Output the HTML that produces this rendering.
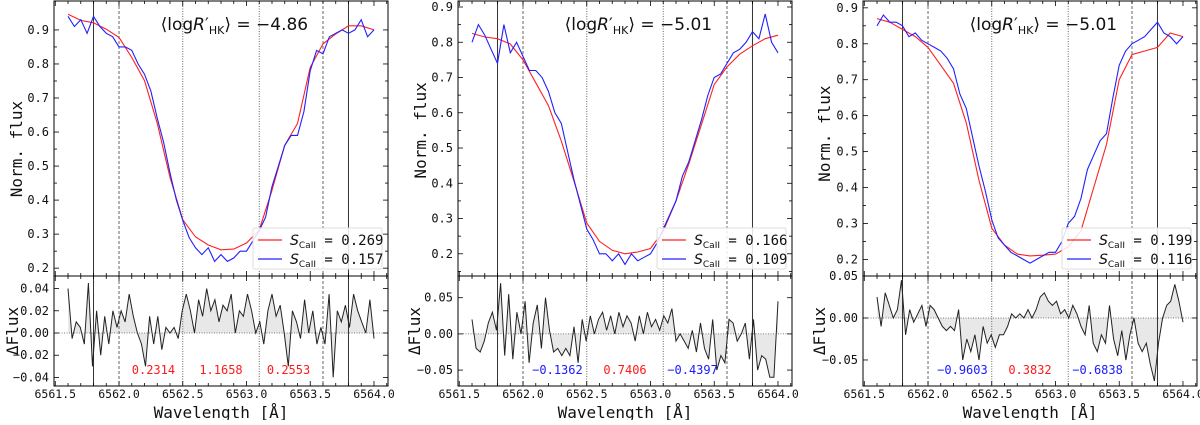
<!DOCTYPE html>
<html><head><meta charset="utf-8"><style>
body{margin:0;background:#fff;}
svg text{font-family:"DejaVu Sans Mono","Liberation Mono",monospace;}
</style></head><body>
<svg id="fig" width="1200" height="420" xmlns="http://www.w3.org/2000/svg"></svg>
<script>
// Panel data
const redP1 = [0.946,0.928,0.921,0.902,0.878,0.819,0.751,0.625,0.467,0.342,0.292,0.268,0.254,0.256,0.274,0.312,0.429,0.561,0.625,0.79,0.859,0.888,0.912,0.912,0.90];
const blueP1 = [0.94,0.91,0.93,0.89,0.94,0.91,0.89,0.88,0.85,0.85,0.84,0.80,0.77,0.72,0.64,0.57,0.48,0.40,0.34,0.29,0.26,0.24,0.26,0.22,0.24,0.22,0.23,0.25,0.25,0.28,0.31,0.35,0.44,0.50,0.56,0.59,0.59,0.66,0.78,0.84,0.83,0.88,0.89,0.90,0.89,0.90,0.93,0.88,0.90];
const resP1 = [0.04,-0.005,0.01,0.005,-0.01,0.045,-0.03,0.02,-0.02,0.015,-0.01,0.02,0.005,0.02,0.01,0.035,0.015,0.0,-0.01,-0.03,0.015,-0.01,0.015,-0.015,0.005,0.0,0.005,-0.005,0.02,0.035,0.02,0.0,0.03,0.015,0.04,0.02,0.03,0.01,0.025,0.02,0.035,0.0,0.02,0.015,0.035,0.02,0.0,0.01,-0.01,0.02,0.035,0.015,0.025,0.0,-0.03,0.02,0.01,-0.005,0.03,0.0,0.02,-0.01,0.005,-0.01,0.035,-0.04,0.02,0.01,0.025,0.005,0.035,0.02,0.01,0.0,0.03,-0.005];
const redP2 = [0.825,0.815,0.81,0.795,0.75,0.685,0.62,0.52,0.406,0.287,0.235,0.21,0.20,0.205,0.215,0.264,0.35,0.454,0.567,0.68,0.73,0.766,0.79,0.81,0.82];
const blueP2 = [0.80,0.85,0.82,0.78,0.74,0.85,0.77,0.80,0.76,0.72,0.72,0.70,0.66,0.60,0.57,0.49,0.41,0.34,0.27,0.24,0.20,0.20,0.18,0.20,0.17,0.20,0.18,0.19,0.20,0.23,0.27,0.31,0.35,0.42,0.46,0.52,0.58,0.65,0.70,0.71,0.74,0.77,0.78,0.80,0.83,0.81,0.88,0.80,0.77];
const resP2 = [0.02,-0.02,-0.025,-0.01,0.015,0.03,0.005,0.07,-0.03,0.055,-0.035,0.03,0.0,0.045,-0.04,0.015,0.04,-0.02,0.05,0.005,-0.025,-0.02,-0.03,-0.02,-0.03,0.01,-0.04,0.02,-0.01,0.025,0.0,0.02,0.03,0.005,0.025,0.0,0.03,0.01,0.025,0.015,-0.01,0.025,0.0,0.03,0.01,0.02,0.005,0.025,0.015,0.035,-0.01,0.0,-0.01,-0.02,0.005,-0.025,0.015,-0.02,-0.035,0.02,-0.05,-0.03,-0.04,0.02,0.015,-0.01,0.0,0.015,-0.035,0.02,-0.05,-0.03,-0.035,-0.06,-0.06,0.045];
const redP3 = [0.87,0.86,0.84,0.82,0.79,0.74,0.69,0.58,0.42,0.287,0.24,0.215,0.21,0.212,0.215,0.235,0.28,0.40,0.52,0.70,0.77,0.78,0.79,0.83,0.82];
const blueP3 = [0.85,0.88,0.86,0.86,0.85,0.82,0.83,0.81,0.80,0.79,0.78,0.76,0.73,0.66,0.62,0.54,0.46,0.39,0.31,0.26,0.24,0.22,0.21,0.20,0.19,0.20,0.21,0.22,0.22,0.25,0.30,0.32,0.37,0.45,0.49,0.53,0.55,0.65,0.74,0.78,0.80,0.81,0.82,0.84,0.86,0.83,0.82,0.80,0.82];
const resP3 = [0.025,-0.01,0.03,0.015,0.0,0.01,0.045,-0.02,0.01,-0.005,0.005,0.015,-0.01,0.015,0.01,0.0,-0.01,-0.015,-0.01,-0.015,0.01,-0.05,-0.025,-0.04,-0.02,-0.05,-0.01,-0.03,-0.02,-0.035,-0.02,-0.02,-0.01,0.005,0.0,0.005,0.0,0.01,0.0,0.01,0.025,0.03,0.02,0.015,0.02,0.005,0.01,0.0,0.015,0.005,-0.01,-0.02,0.015,-0.03,-0.04,-0.02,-0.03,0.015,-0.025,-0.045,-0.015,-0.05,-0.02,0.0,-0.03,-0.04,-0.03,-0.055,-0.075,-0.03,0.0,0.015,0.02,0.04,0.02,-0.005];
const titles = ["−4.86","−5.01","−5.01"];
const sRed = ["0.269","0.166","0.199"];
const sBlue = ["0.157","0.109","0.116"];
const annVals = [["0.2314","1.1658","0.2553"],["−0.1362","0.7406","−0.4397"],["−0.9603","0.3832","−0.6838"]];
const annCols = [["red","red","red"],["blue","red","blue"],["blue","red","blue"]];
const xTicks = [6561.5,6562.0,6562.5,6563.0,6563.5,6564.0];
const vLines = [[6561.8,"solid"],[6562.0,"dashed"],[6562.5,"dotted"],[6563.1,"dotted"],[6563.6,"dashed"],[6563.8,"solid"]];
const mainTicks = [0.2,0.3,0.4,0.5,0.6,0.7,0.8,0.9];
const resTicksP1 = [-0.04,-0.02,0.0,0.02,0.04];
const resTicksP23 = [-0.05,0.0,0.05];

const panels = [
 {L:54,R:388,mY:[0.177,0.985],rY:[-0.0477,0.0513],red:redP1,blue:blueP1,res:resP1,rt:resTicksP1,ylx:22,dfx:18},
 {L:458,R:792,mY:[0.137,0.917],rY:[-0.072,0.080],red:redP2,blue:blueP2,res:resP2,rt:resTicksP23,ylx:426,dfx:420},
 {L:863,R:1197,mY:[0.154,0.919],rY:[-0.081,0.050],red:redP3,blue:blueP3,res:resP3,rt:resTicksP23,ylx:830,dfx:825}
];
const X0=6561.49, X1=6564.11, TOP=1, MID=276, BOT=386;
const NS="http://www.w3.org/2000/svg";
const fig=document.getElementById('fig');
function mk(tag,attrs,parent){const e=document.createElementNS(NS,tag);for(const k in attrs)e.setAttribute(k,attrs[k]);(parent||fig).appendChild(e);return e;}
function fmt(v,d){const s=v.toFixed(d);return v<0?"−"+s.slice(1):s;}

panels.forEach((p,pi)=>{
  const g=mk('g',{});
  
  
  const xs=v=>p.L+(v-X0)/(X1-X0)*(p.R-p.L);
  const ym=v=>MID-(v-p.mY[0])/(p.mY[1]-p.mY[0])*(MID-TOP);
  const yr=v=>BOT-(v-p.rY[0])/(p.rY[1]-p.rY[0])*(BOT-MID);
  const cid='c'+pi;
  const cp=mk('clipPath',{id:cid},g);mk('rect',{x:p.L,y:TOP,width:p.R-p.L,height:BOT-TOP},cp);
  const resX=p.res.map((v,i)=>6561.6+i*(2.4/(p.res.length-1)));
  let fd='M'+xs(resX[0])+','+yr(0);
  p.res.forEach((v,i)=>fd+=' L'+xs(resX[i]).toFixed(1)+','+yr(v).toFixed(1));
  fd+=' L'+xs(resX[resX.length-1])+','+yr(0)+'Z';
  const fill=mk('path',{d:fd,fill:'#e8e8e8',stroke:'none','clip-path':'url(#'+cid+')'},g);
  
  
  const zl=mk('line',{x1:p.L,x2:p.R,y1:yr(0),y2:yr(0),stroke:'#555','stroke-width':0.8,'stroke-dasharray':'1,1.5'},g);
  
  
  vLines.forEach(([v,st])=>{
    const dash=st==='dashed'?'3,2':st==='dotted'?'1,1.5':'none';
    const ln=mk('line',{x1:xs(v),x2:xs(v),y1:TOP,y2:BOT,stroke:st==='solid'?'#333':'#666','stroke-width':1,'stroke-dasharray':dash},g);
    
    
  });
  const line=(arr,x0,step,fy,col,name,w)=>{
    let d='';arr.forEach((v,i)=>d+=(i?' L':'M')+xs(x0+i*step).toFixed(1)+','+fy(v).toFixed(1));
    const e=mk('path',{d:d,fill:'none',stroke:col,'stroke-width':w,'clip-path':'url(#'+cid+')'},g);
    
    
  };
  line(p.red,6561.6,0.1,ym,'#ff2020','red-spectrum',1.1);
  line(p.blue,6561.6,0.05,ym,'#2020ff','blue-spectrum',1.1);
  line(p.res,6561.6,2.4/(p.res.length-1),yr,'#222','residual-line',1);
  const f1=mk('rect',{x:p.L,y:TOP,width:p.R-p.L,height:MID-TOP,fill:'none',stroke:'#000','stroke-width':1},g);
  
  
  const f2=mk('rect',{x:p.L,y:MID,width:p.R-p.L,height:BOT-MID,fill:'none',stroke:'#000','stroke-width':1},g);
  
  
  for(let v=6561.5;v<=6564.11;v+=0.1){
    const major=Math.abs((v*2)-Math.round(v*2))<0.01;
    const L=major?5:3;
    if(xs(v)<p.L-0.5)continue;
    [[MID,-1],[TOP,1],[BOT,-1],[MID,1]].forEach(([y,s])=>mk('line',{x1:xs(v),x2:xs(v),y1:y,y2:y+s*L,stroke:'#000','stroke-width':0.8},g));
  }
  xTicks.forEach(v=>{
    const t=mk('text',{x:xs(v),y:398,'font-size':11.5,'text-anchor':'middle',fill:'#111'},g);
    t.textContent=v.toFixed(1);
    
    
  });
  const xl=mk('text',{x:(p.L+p.R)/2,y:418,'font-size':16,'text-anchor':'middle',fill:'#111'},g);
  xl.textContent='Wavelength [Å]';
  
  
  for(let v=0.15;v<=0.95;v+=0.05){
    const y=ym(v);if(y<TOP||y>MID)continue;
    const major=Math.abs(v*10-Math.round(v*10))<0.01;const L=major?5:3;
    mk('line',{x1:p.L,x2:p.L+L,y1:y,y2:y,stroke:'#000','stroke-width':0.8},g);
    mk('line',{x1:p.R,x2:p.R-L,y1:y,y2:y,stroke:'#000','stroke-width':0.8},g);
  }
  mainTicks.forEach(v=>{
    const t=mk('text',{x:p.L-5,y:ym(v)+4,'font-size':12,'text-anchor':'end',fill:'#111'},g);
    t.textContent=v.toFixed(1);
    
    
  });
  p.rt.forEach(v=>{
    const y=yr(v);
    mk('line',{x1:p.L,x2:p.L+5,y1:y,y2:y,stroke:'#000','stroke-width':0.8},g);
    mk('line',{x1:p.R,x2:p.R-5,y1:y,y2:y,stroke:'#000','stroke-width':0.8},g);
    const t=mk('text',{x:p.L-5,y:y+4,'font-size':12,'text-anchor':'end',fill:'#111'},g);
    t.textContent=fmt(v,2);
    
    
  });
  const yl=mk('text',{x:p.ylx,y:ym(0.55),'font-size':16,'text-anchor':'middle',fill:'#111',transform:'rotate(-90 '+p.ylx+' '+ym(0.55)+')'},g);
  yl.textContent='Norm. flux';
  
  
  const dl=mk('text',{x:p.dfx,y:331,'font-size':16,'text-anchor':'middle',fill:'#111',transform:'rotate(-90 '+p.dfx+' 331)'},g);
  dl.textContent='ΔFlux';
  
  
  const tt=mk('text',{x:p.L+(p.R-p.L)*0.54,y:30,'font-size':17,'text-anchor':'middle',fill:'#111',style:'font-family:"DejaVu Sans",sans-serif'},g);
  tt.innerHTML='⟨log<tspan font-style="italic">R</tspan>′<tspan font-size="11" dy="4">HK</tspan><tspan dy="-4">⟩ = '+titles[pi]+'</tspan>';
  
  
  const lx=p.R-135, ly=228;
  const lg=mk('g',{},g);
  
  
  mk('rect',{x:lx,y:ly,width:129,height:41,fill:'#fff','fill-opacity':0.85,stroke:'#ddd',rx:2},lg);
  [[sRed[pi],'#ff2020',ly+12],[sBlue[pi],'#2020ff',ly+31]].forEach(([s,c,y])=>{
    mk('line',{x1:lx+5,x2:lx+29,y1:y,y2:y,stroke:c,'stroke-width':1.2},lg);
    const t=mk('text',{x:lx+37,y:y+5,'font-size':14,fill:'#111'},lg);
    t.innerHTML='<tspan font-style="italic" style="font-family:\'DejaVu Sans\',sans-serif">S</tspan><tspan font-size="9" dy="3" style="font-family:\'DejaVu Sans\',sans-serif">CaII</tspan><tspan dy="-3"> = '+s+'</tspan>';
    
    
  });
  const ax=[6562.27,6562.8,6563.33];
  annVals[pi].forEach((s,j)=>{
    const t=mk('text',{x:xs(ax[j]),y:374,'font-size':12,'text-anchor':'middle',fill:annCols[pi][j]==='red'?'#ff1a1a':'#1a1aff'},g);
    t.textContent=s;
    
    
  });
});
</script>
</body></html>
